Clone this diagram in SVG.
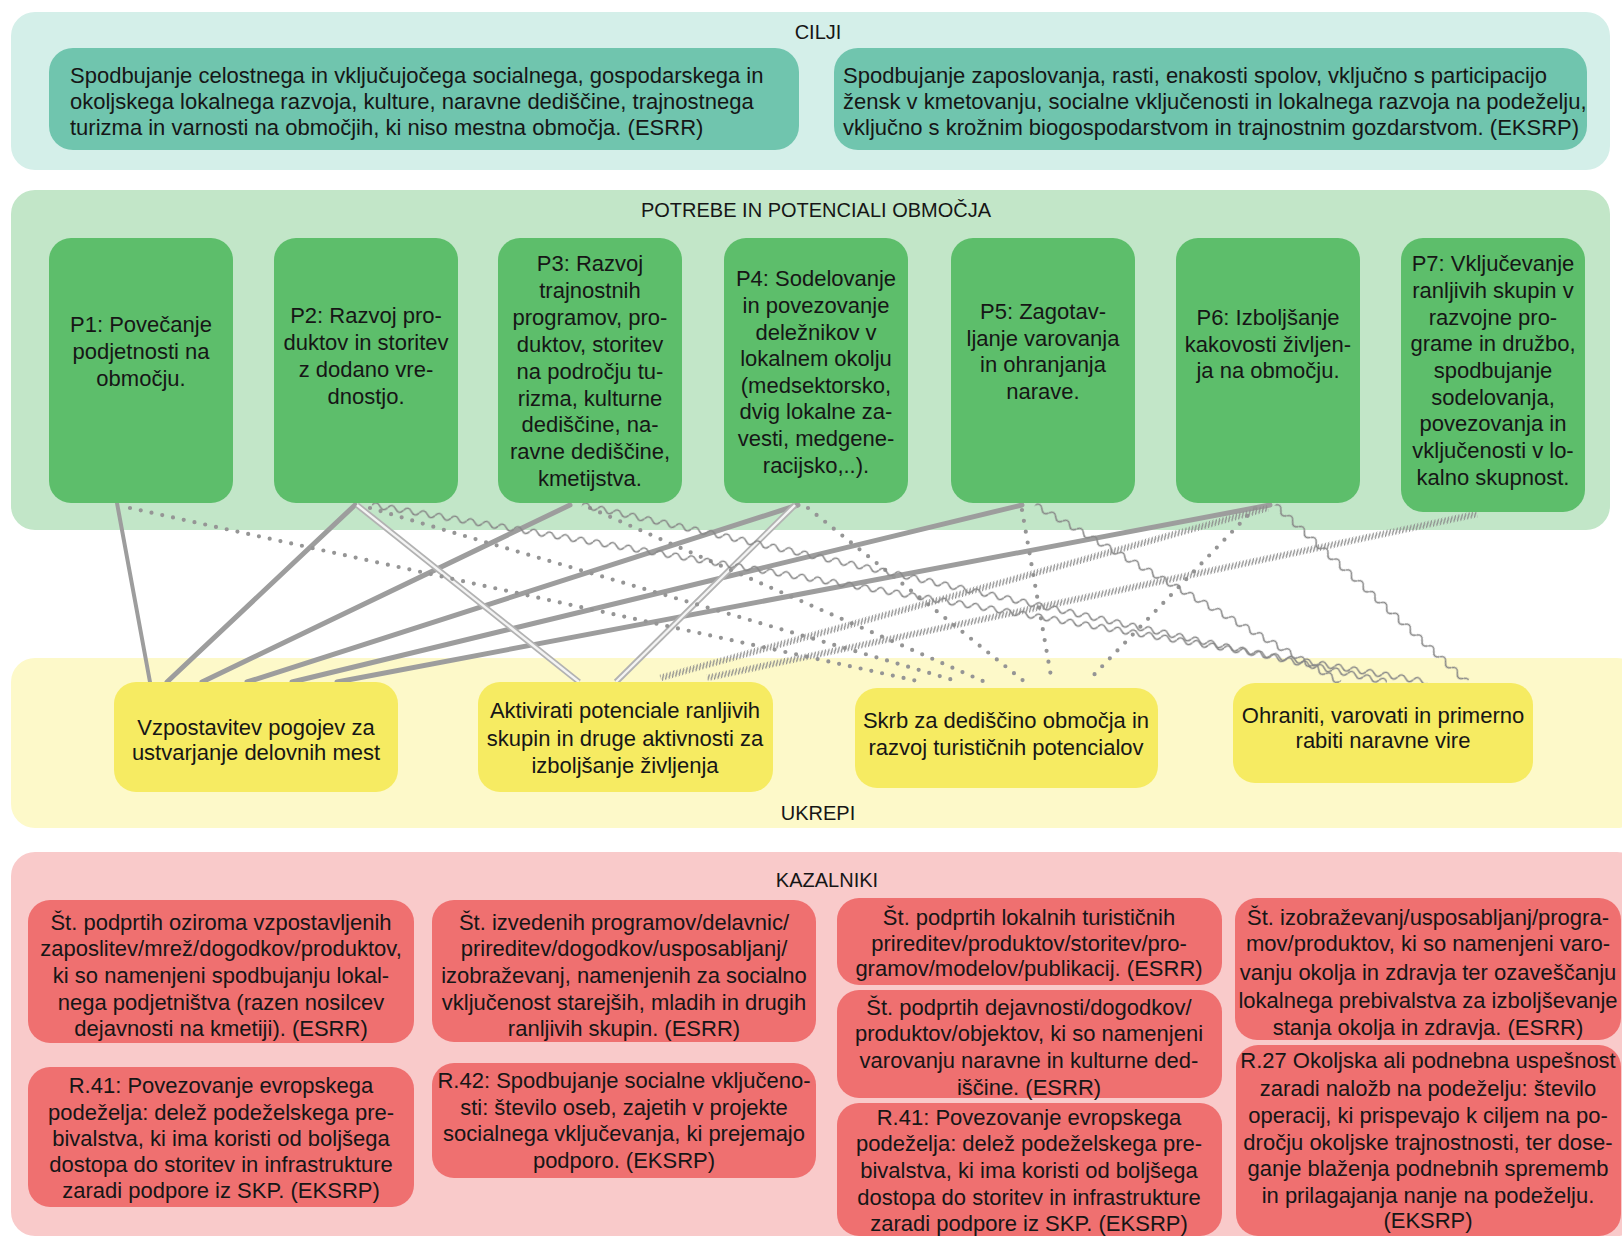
<svg xmlns="http://www.w3.org/2000/svg" width="1622" height="1238" viewBox="0 0 1622 1238">
<style>
text{font-family:"Liberation Sans",Arial,sans-serif;font-size:22px;fill:#161616;text-anchor:middle;dominant-baseline:central}
.tl{text-anchor:start}
.title{font-size:20px}
.pc{fill:#d4efe9}.pg{fill:#c2e6c8}.py{fill:#fdf9c9}.pr{fill:#f9caca}
.nc{fill:#70c5ae}.ng{fill:#5dbe6b}.ny{fill:#f6eb62}.nr{fill:#ef7070}
.solid{stroke:#9d9d9d;stroke-width:5;stroke-linecap:round}
.dot{stroke:#959595;stroke-width:4.2;stroke-linecap:round;stroke-dasharray:0 11}
.dbl{stroke:#b2b2b2;stroke-width:6}
.dbli{stroke:#f4f4f4;stroke-width:2.4}
</style>
<defs>
<pattern id="wave" patternUnits="userSpaceOnUse" x="0" y="-5" width="16" height="10"><path d="M0,5 Q4,-0.5 8,5 T16,5" fill="none" stroke="#878787" stroke-width="1.5"/></pattern>
<pattern id="hatch" patternUnits="userSpaceOnUse" x="0" y="-3.5" width="3.5" height="7"><path d="M-0.5,7.5 L4,-0.5" stroke="#8c8c8c" stroke-width="1.3"/></pattern>
</defs>

<g id="panels">
<rect class="pc" x="11" y="12" width="1599" height="158" rx="24"/>
<rect class="pg" x="11" y="190" width="1599" height="340" rx="24"/>
<rect class="py" x="11" y="658" width="1630" height="170" rx="24"/>
<rect class="pr" x="11" y="852" width="1630" height="384" rx="24"/>
<text class="title" x="818" y="32">CILJI</text>
<text class="title" x="816" y="210">POTREBE IN POTENCIALI OBMOČJA</text>
<text class="title" x="818" y="813">UKREPI</text>
<text class="title" x="827" y="880">KAZALNIKI</text>
</g>

<g id="connectors" fill="none">
<line class="solid" x1="117" y1="503" x2="150" y2="682" style="stroke-width:4"/>
<line class="solid" x1="355" y1="505" x2="167" y2="682"/>
<line class="solid" x1="570" y1="505" x2="202" y2="682"/>
<line class="solid" x1="798" y1="505" x2="247" y2="682"/>
<line class="solid" x1="1022" y1="505" x2="292" y2="682"/>
<line class="solid" x1="1270" y1="505" x2="337" y2="682"/>
<line class="dbl" x1="357" y1="505" x2="579" y2="682"/>
<line class="dbli" x1="357" y1="505" x2="579" y2="682"/>
<line class="dbl" x1="795" y1="505" x2="616" y2="682"/>
<line class="dbli" x1="795" y1="505" x2="616" y2="682"/>
<line class="dot" x1="130" y1="508" x2="922" y2="682"/>
<line class="dot" x1="370" y1="508" x2="960" y2="682"/>
<line class="dot" x1="590" y1="508" x2="985" y2="682"/>
<line class="dot" x1="808" y1="508" x2="1025" y2="682"/>
<line class="dot" x1="1022" y1="510" x2="1052" y2="682"/>
<line class="dot" x1="1255" y1="508" x2="1087" y2="682"/>
<g transform="translate(372,505) rotate(9.52)"><rect x="0" y="-5" width="1070" height="10" fill="url(#wave)"/></g>
<g transform="translate(582,505) rotate(12.40)"><rect x="0" y="-5" width="824" height="10" fill="url(#wave)"/></g>
<g transform="translate(1035,505) rotate(30.13)"><rect x="0" y="-5" width="353" height="10" fill="url(#wave)"/></g>
<g transform="translate(1275,505) rotate(42.67)"><rect x="0" y="-5" width="261" height="10" fill="url(#wave)"/></g>
<g transform="translate(1268,508) rotate(164.38)"><rect x="0" y="-3.5" width="631" height="7" fill="url(#hatch)"/></g>
<g transform="translate(1477,514) rotate(167.98)"><rect x="0" y="-3.5" width="787" height="7" fill="url(#hatch)"/></g>
</g>

<g id="cilj1"><rect class="nc" x="49" y="48" width="750" height="102" rx="24"/>
<text class="tl" x="70" y="75">Spodbujanje celostnega in vključujočega socialnega, gospodarskega in</text>
<text class="tl" x="70" y="101">okoljskega lokalnega razvoja, kulture, naravne dediščine, trajnostnega</text>
<text class="tl" x="70" y="127">turizma in varnosti na območjih, ki niso mestna območja. (ESRR)</text></g>
<g id="cilj2"><rect class="nc" x="834" y="48" width="753" height="102" rx="24"/>
<text class="tl" x="843" y="75">Spodbujanje zaposlovanja, rasti, enakosti spolov, vključno s participacijo</text>
<text class="tl" x="843" y="101">žensk v kmetovanju, socialne vključenosti in lokalnega razvoja na podeželju,</text>
<text class="tl" x="843" y="127">vključno s krožnim biogospodarstvom in trajnostnim gozdarstvom. (EKSRP)</text></g>

<g id="p1"><rect class="ng" x="49" y="238" width="184" height="265" rx="22"/>
<text x="141" y="324">P1: Povečanje</text><text x="141" y="351">podjetnosti na</text><text x="141" y="378">območju.</text></g>
<g id="p2"><rect class="ng" x="274" y="238" width="184" height="265" rx="22"/>
<text x="366" y="315">P2: Razvoj pro-</text><text x="366" y="342">duktov in storitev</text><text x="366" y="369">z dodano vre-</text><text x="366" y="396">dnostjo.</text></g>
<g id="p3"><rect class="ng" x="498" y="238" width="184" height="265" rx="22"/>
<text x="590" y="263">P3: Razvoj</text><text x="590" y="290">trajnostnih</text><text x="590" y="317">programov, pro-</text><text x="590" y="344">duktov, storitev</text><text x="590" y="371">na področju tu-</text><text x="590" y="398">rizma, kulturne</text><text x="590" y="424">dediščine, na-</text><text x="590" y="451">ravne dediščine,</text><text x="590" y="478">kmetijstva.</text></g>
<g id="p4"><rect class="ng" x="724" y="238" width="184" height="265" rx="22"/>
<text x="816" y="278">P4: Sodelovanje</text><text x="816" y="305">in povezovanje</text><text x="816" y="332">deležnikov v</text><text x="816" y="358">lokalnem okolju</text><text x="816" y="385">(medsektorsko,</text><text x="816" y="411">dvig lokalne za-</text><text x="816" y="438">vesti, medgene-</text><text x="816" y="465">racijsko,..).</text></g>
<g id="p5"><rect class="ng" x="951" y="238" width="184" height="265" rx="22"/>
<text x="1043" y="311">P5: Zagotav-</text><text x="1043" y="338">ljanje varovanja</text><text x="1043" y="364">in ohranjanja</text><text x="1043" y="391">narave.</text></g>
<g id="p6"><rect class="ng" x="1176" y="238" width="184" height="265" rx="22"/>
<text x="1268" y="317">P6: Izboljšanje</text><text x="1268" y="344">kakovosti življen-</text><text x="1268" y="370">ja na območju.</text></g>
<g id="p7"><rect class="ng" x="1401" y="238" width="184" height="274" rx="22"/>
<text x="1493" y="263">P7: Vključevanje</text><text x="1493" y="290">ranljivih skupin v</text><text x="1493" y="317">razvojne pro-</text><text x="1493" y="343">grame in družbo,</text><text x="1493" y="370">spodbujanje</text><text x="1493" y="397">sodelovanja,</text><text x="1493" y="423">povezovanja in</text><text x="1493" y="450">vključenosti v lo-</text><text x="1493" y="477">kalno skupnost.</text></g>

<g id="u1"><rect class="ny" x="114" y="682" width="284" height="110" rx="22"/>
<text x="256" y="727">Vzpostavitev pogojev za</text><text x="256" y="752">ustvarjanje delovnih mest</text></g>
<g id="u2"><rect class="ny" x="478" y="682" width="295" height="110" rx="22"/>
<text x="625" y="710">Aktivirati potenciale ranljivih</text><text x="625" y="738">skupin in druge aktivnosti za</text><text x="625" y="765">izboljšanje življenja</text></g>
<g id="u3"><rect class="ny" x="855" y="688" width="303" height="100" rx="22"/>
<text x="1006" y="720">Skrb za dediščino območja in</text><text x="1006" y="747">razvoj turističnih potencialov</text></g>
<g id="u4"><rect class="ny" x="1233" y="683" width="300" height="100" rx="22"/>
<text x="1383" y="715">Ohraniti, varovati in primerno</text><text x="1383" y="740">rabiti naravne vire</text></g>

<g id="k1"><rect class="nr" x="28" y="900" width="386" height="143" rx="22"/>
<text x="221" y="922">Št. podprtih oziroma vzpostavljenih</text><text x="221" y="948">zaposlitev/mrež/dogodkov/produktov,</text><text x="221" y="975">ki so namenjeni spodbujanju lokal-</text><text x="221" y="1002">nega podjetništva (razen nosilcev</text><text x="221" y="1028">dejavnosti na kmetiji). (ESRR)</text></g>
<g id="k2"><rect class="nr" x="28" y="1067" width="386" height="140" rx="22"/>
<text x="221" y="1085">R.41: Povezovanje evropskega</text><text x="221" y="1112">podeželja: delež podeželskega pre-</text><text x="221" y="1138">bivalstva, ki ima koristi od boljšega</text><text x="221" y="1164">dostopa do storitev in infrastrukture</text><text x="221" y="1190">zaradi podpore iz SKP. (EKSRP)</text></g>
<g id="k3"><rect class="nr" x="432" y="900" width="384" height="142" rx="22"/>
<text x="624" y="922">Št. izvedenih programov/delavnic/</text><text x="624" y="948">prireditev/dogodkov/usposabljanj/</text><text x="624" y="975">izobraževanj, namenjenih za socialno</text><text x="624" y="1002">vključenost starejših, mladih in drugih</text><text x="624" y="1028">ranljivih skupin. (ESRR)</text></g>
<g id="k4"><rect class="nr" x="432" y="1063" width="384" height="115" rx="22"/>
<text x="624" y="1080">R.42: Spodbujanje socialne vključeno-</text><text x="624" y="1107">sti: število oseb, zajetih v projekte</text><text x="624" y="1133">socialnega vključevanja, ki prejemajo</text><text x="624" y="1160">podporo. (EKSRP)</text></g>
<g id="k5"><rect class="nr" x="837" y="898" width="385" height="87" rx="22"/>
<text x="1029" y="917">Št. podprtih lokalnih turističnih</text><text x="1029" y="943">prireditev/produktov/storitev/pro-</text><text x="1029" y="968">gramov/modelov/publikacij. (ESRR)</text></g>
<g id="k6"><rect class="nr" x="837" y="990" width="385" height="108" rx="22"/>
<text x="1029" y="1007">Št. podprtih dejavnosti/dogodkov/</text><text x="1029" y="1033">produktov/objektov, ki so namenjeni</text><text x="1029" y="1060">varovanju naravne in kulturne ded-</text><text x="1029" y="1087">iščine. (ESRR)</text></g>
<g id="k7"><rect class="nr" x="837" y="1103" width="385" height="133" rx="22"/>
<text x="1029" y="1117">R.41: Povezovanje evropskega</text><text x="1029" y="1143">podeželja: delež podeželskega pre-</text><text x="1029" y="1170">bivalstva, ki ima koristi od boljšega</text><text x="1029" y="1197">dostopa do storitev in infrastrukture</text><text x="1029" y="1223">zaradi podpore iz SKP. (EKSRP)</text></g>
<g id="k8"><rect class="nr" x="1235" y="898" width="386" height="142" rx="22"/>
<text x="1428" y="917">Št. izobraževanj/usposabljanj/progra-</text><text x="1428" y="943">mov/produktov, ki so namenjeni varo-</text><text x="1428" y="972">vanju okolja in zdravja ter ozaveščanju</text><text x="1428" y="1000">lokalnega prebivalstva za izboljševanje</text><text x="1428" y="1027">stanja okolja in zdravja. (ESRR)</text></g>
<g id="k9"><rect class="nr" x="1236" y="1045" width="385" height="191" rx="22"/>
<text x="1428" y="1060">R.27 Okoljska ali podnebna uspešnost</text><text x="1428" y="1088">zaradi naložb na podeželju: število</text><text x="1428" y="1115">operacij, ki prispevajo k ciljem na po-</text><text x="1428" y="1142">dročju okoljske trajnostnosti, ter dose-</text><text x="1428" y="1168">ganje blaženja podnebnih sprememb</text><text x="1428" y="1195">in prilagajanja nanje na podeželju.</text><text x="1428" y="1220">(EKSRP)</text></g>
</svg>
